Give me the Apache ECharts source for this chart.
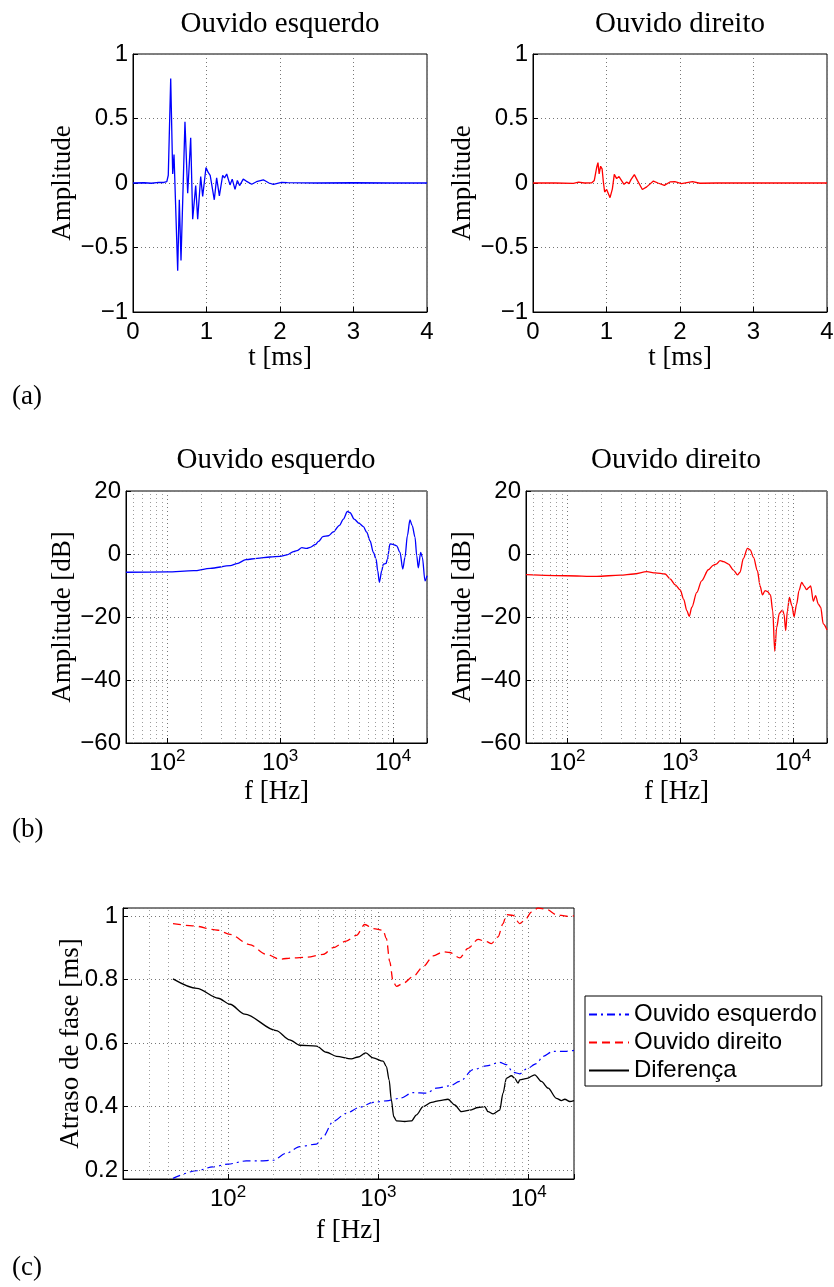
<!DOCTYPE html>
<html><head><meta charset="utf-8">
<script src="https://cdn.jsdelivr.net/npm/echarts@6/dist/echarts.min.js"></script>
<style>html,body{margin:0;padding:0;background:#fff}#c{width:834px;height:1287px}</style>
</head><body><div id="c"></div>
<script>
// ---------- (a) impulse responses ----------
const tL = [0, 0.15, 0.25, 0.35, 0.42, 0.46, 0.48, 0.513, 0.54, 0.558, 0.608, 0.63, 0.653, 0.707, 0.744, 0.785, 0.812, 0.853, 0.88, 0.921, 0.948, 0.993, 1.025, 1.05, 1.07, 1.106, 1.138, 1.175, 1.22, 1.245, 1.275, 1.32, 1.35, 1.388, 1.42, 1.45, 1.50, 1.54, 1.615, 1.68, 1.773, 1.85, 1.91, 2.02, 2.1, 2.5, 3.0, 3.5, 4.0];
const aL = [0, 0.002, -0.002, 0.005, 0.004, 0.01, 0.06, 0.81, 0.07, 0.22, -0.68, -0.13, -0.60, 0.475, -0.08, 0.35, -0.28, -0.02, -0.28, 0.05, -0.105, 0.12, 0.08, 0.06, 0.05, -0.13, 0.04, -0.10, 0.06, 0.04, 0.07, -0.015, 0.03, -0.05, 0.02, -0.02, 0.03, 0.015, -0.01, 0.01, 0.025, 0.0, -0.01, 0.004, 0.003, 0, 0.002, 0, 0];
const tR = [0, 0.3, 0.55, 0.62, 0.7, 0.8, 0.834, 0.866, 0.884, 0.9, 0.92, 0.94, 0.957, 0.975, 1.002, 1.048, 1.08, 1.106, 1.138, 1.17, 1.193, 1.238, 1.275, 1.306, 1.333, 1.379, 1.42, 1.488, 1.547, 1.638, 1.70, 1.787, 1.864, 1.93, 2.02, 2.17, 2.27, 2.5, 3, 3.5, 4];
const aR = [0, 0, -0.003, 0.006, 0, 0.002, 0.02, 0.12, 0.158, 0.07, 0.13, 0.11, 0.01, -0.07, -0.05, -0.114, -0.045, 0.067, 0.034, 0.05, 0.047, -0.01, 0.008, -0.005, 0.026, 0.065, 0.02, -0.05, -0.03, 0.015, 0, -0.018, 0.008, 0.01, -0.005, 0.01, -0.002, 0, 0.001, 0, 0];

// ---------- (b) magnitude responses ----------
const fBL = [43, 99, 171, 240, 361, 414, 497, 622, 813, 1000, 1148, 1312, 1406, 1556, 1722, 1841, 2042, 2188, 2388, 2679, 2951, 3350, 3631, 3945, 4169, 4519, 5012, 5458, 5848, 6252, 6699, 7079, 7311, 7568, 7943, 8204, 8670, 8913, 9397, 10069, 10765, 11535, 12190, 12764, 13397, 14125, 14791, 15668, 16218, 16749, 17579, 18197, 19187, 20000];
const mBL = [-5.8, -5.7, -5.3, -4.55, -3.7, -3.07, -1.8, -1.38, -0.95, -0.74, -0.3, 0.74, 1.06, 2.0, 1.8, 2.1, 2.96, 4.0, 5.5, 5.8, 7.0, 9.1, 11.1, 13.5, 13.1, 11.1, 9.7, 8.7, 6.9, 4.2, 0.5, -1.6, -5.3, -9.0, -5.3, -3.2, -3.0, -1.6, 3.2, 3.0, 2.6, 0.5, -4.8, -1.06, 5.8, 10.8, 9.0, 5.3, -0.5, -4.4, 0.5, -1.06, -8.5, -6.9];
const fBR = [43, 99, 182, 295, 386, 507, 603, 736, 813, 904, 1000, 1072, 1146, 1202, 1268, 1403, 1549, 1778, 1972, 2089, 2259, 2415, 2679, 2965, 3214, 3388, 3631, 3945, 4169, 4467, 4831, 5105, 5358, 5649, 5929, 6310, 6607, 6887, 7161, 7568, 8054, 8318, 8610, 8913, 9290, 9772, 10209, 10765, 11298, 11940, 12503, 13183, 13868, 14322, 15136, 15849, 16749, 17579, 18535, 20000];
const mBR = [-6.56, -6.9, -7.1, -6.7, -6.35, -5.6, -6.0, -6.35, -7.9, -9.8, -11.4, -14.3, -18, -19.8, -16.9, -12.2, -8.5, -5.0, -3.5, -3.2, -2.1, -2.4, -3.2, -5.1, -6.6, -5.8, -1.4, 1.8, 1.3, -1.06, -5.3, -10.1, -13.0, -11.6, -11.9, -13.0, -18, -30.9, -23.3, -18.8, -17.8, -19, -24.3, -18, -13.8, -16.4, -19.9, -15.9, -11.6, -9.0, -10.1, -11.3, -10.6, -10.1, -15.0, -13.2, -15.9, -16.9, -22.2, -24.1];

// ---------- (c) phase delay ----------
const fPL = [43, 62, 79, 100, 132, 163, 200, 244, 300, 387, 429, 499, 612, 752, 923, 1130, 1387, 1702, 2084, 2432, 2979, 3475, 4266, 5224, 6412, 7096, 7870, 8710, 9638, 11246, 12445, 14521, 17824, 20000];
const pL = [0.174, 0.198, 0.21, 0.219, 0.229, 0.229, 0.231, 0.253, 0.274, 0.282, 0.305, 0.353, 0.379, 0.398, 0.413, 0.418, 0.426, 0.444, 0.442, 0.458, 0.465, 0.479, 0.516, 0.528, 0.539, 0.532, 0.508, 0.503, 0.518, 0.535, 0.558, 0.574, 0.574, 0.577];
const fPR = [43, 58, 86, 103, 139, 180, 221, 270, 332, 429, 499, 612, 714, 811, 923, 1074, 1130, 1189, 1253, 1318, 1459, 1702, 1982, 2312, 2692, 2979, 3475, 3945, 4603, 5224, 5649, 6252, 6745, 7096, 7870, 8710, 9397, 10423, 11535, 13122, 15276, 17824, 20000];
const pR = [0.976, 0.969, 0.955, 0.942, 0.91, 0.879, 0.864, 0.868, 0.870, 0.879, 0.90, 0.921, 0.939, 0.973, 0.960, 0.955, 0.929, 0.856, 0.793, 0.778, 0.788, 0.809, 0.84, 0.874, 0.887, 0.885, 0.868, 0.898, 0.926, 0.919, 0.913, 0.934, 0.976, 1.004, 1.002, 0.976, 0.986, 1.012, 1.025, 1.021, 1.004, 0.999, 1.0];
const fD = [43, 62, 86, 103, 129, 209, 257, 300, 387, 451, 526, 661, 733, 824, 923, 1074, 1130, 1178, 1219, 1265, 1318, 1496, 1660, 1791, 1982, 2254, 2559, 2904, 3221, 3565, 4055, 4603, 5093, 5358, 5794, 6412, 6745, 7096, 7674, 8072, 8492, 8710, 9750, 10965, 12134, 13459, 15276, 16482, 17378, 18750, 20000];
const pD = [0.802, 0.772, 0.741, 0.722, 0.691, 0.639, 0.61, 0.593, 0.59, 0.571, 0.558, 0.55, 0.556, 0.569, 0.553, 0.543, 0.526, 0.484, 0.421, 0.368, 0.355, 0.353, 0.355, 0.374, 0.40, 0.413, 0.419, 0.423, 0.405, 0.384, 0.389, 0.397, 0.40, 0.384, 0.377, 0.389, 0.442, 0.489, 0.497, 0.489, 0.474, 0.484, 0.489, 0.50, 0.479, 0.458, 0.426, 0.419, 0.423, 0.416, 0.419];

const seriesNames = ['Ouvido esquerdo', 'Ouvido direito', 'Diferença'];
const panelLabels = ['(a)', '(b)', '(c)'];

// minor log grid positions (2..9 x decade)
function minorLog(lo, hi) {
  const out = [];
  for (let d = 10; d <= 10000; d *= 10) for (let k = 2; k <= 9; k++) { const v = k * d; if (v > lo && v < hi) out.push(v); }
  return out;
}

const SANS = '"Liberation Sans", Arial, sans-serif';
const SERIF = '"Liberation Serif", "Times New Roman", serif';
const zip = (a, b) => a.map((x, i) => [x, b[i]]);
const minusFmt = v => String(v).replace('-', '\u2212');
const logFmt = v => { const l = Math.log10(v); const e = Math.round(l); if (Math.abs(l - e) > 1e-6) return ''; return '{b|10}{s|' + e + '}'; };
const logRich = {
  b: { fontFamily: SANS, fontSize: 24, lineHeight: 24, color: '#000' },
  s: { fontFamily: SANS, fontSize: 17, lineHeight: 17, padding: [0, 0, 13, 0], color: '#000' }
};
const major = { show: true, lineStyle: { color: '#777', type: [1, 3], width: 1 } };
const axLine = { onZero: false, lineStyle: { color: '#000', width: 1 } };
const tick = { inside: true, length: 5, lineStyle: { color: '#000' } };
const nameStyle = { fontFamily: SERIF, fontSize: 27, color: '#000' };
const labStyle = { color: '#000', fontFamily: SANS, fontSize: 24 };

function gridBox(left, top, width, height) {
  return { left, top, width, height, show: true, borderColor: '#000', borderWidth: 1, backgroundColor: 'transparent', containLabel: false, outerBoundsMode: 'none' };
}
function linX(gi, name, gap) {
  return { gridIndex: gi, type: 'value', min: 0, max: 4, interval: 1, axisLine: axLine, axisTick: tick,
    axisLabel: Object.assign({ margin: 8, formatter: minusFmt }, labStyle), splitLine: major,
    name, nameLocation: 'middle', nameGap: gap, nameTextStyle: nameStyle };
}
function logX(gi, min, name, gap) {
  return { gridIndex: gi, type: 'log', logBase: 10, min, max: 20000, axisLine: axLine, axisTick: tick,
    axisLabel: { margin: 8, formatter: logFmt, rich: logRich, color: '#000' }, splitLine: major,
    name, nameLocation: 'middle', nameGap: gap, nameTextStyle: nameStyle };
}
function valY(gi, min, max, interval, name, gap, fmt) {
  const o = { gridIndex: gi, type: 'value', min, max, axisLine: axLine, axisTick: tick,
    axisLabel: Object.assign({ margin: 5, formatter: fmt || minusFmt }, labStyle), splitLine: major,
    name, nameLocation: 'middle', nameGap: gap, nameRotate: 90, nameMoveOverlap: false, nameTextStyle: nameStyle };
  if (interval) o.interval = interval;
  return o;
}
function minorMark(lo, hi) {
  return { silent: true, symbol: 'none', animation: false, label: { show: false }, emphasis: { disabled: true },
    lineStyle: { color: '#9c9c9c', type: [1, 3], width: 1 }, data: minorLog(lo, hi).map(v => ({ xAxis: v })) };
}
function line(xi, data, color, extra) {
  return Object.assign({ type: 'line', xAxisIndex: xi, yAxisIndex: xi, data, symbol: 'none', showSymbol: false,
    lineStyle: { color, width: 1.3 }, itemStyle: { color }, animation: false, clip: true, z: 3 }, extra || {});
}

const chart = echarts.init(document.getElementById('c'), null, { renderer: 'canvas' });
const titleFont = { fontFamily: SERIF, fontSize: 29, fill: '#000', align: 'center', verticalAlign: 'middle' };
const tTxt = (x, y, text) => ({ type: 'text', x, y, silent: true, style: Object.assign({ text }, titleFont) });
const pTxt = (y, text) => ({ type: 'text', x: 12, y, silent: true, style: { text, fontFamily: SERIF, fontSize: 27, fill: '#000', align: 'left', verticalAlign: 'middle' } });

chart.setOption({
  animation: false,
  backgroundColor: '#fff',
  grid: [
    gridBox(133, 54, 294, 258),
    gridBox(533, 54, 294, 258),
    gridBox(126, 491, 301, 252),
    gridBox(526, 491, 301, 252),
    gridBox(123, 908, 451, 271)
  ],
  xAxis: [
    linX(0, 't [ms]', 31),
    linX(1, 't [ms]', 31),
    logX(2, 43, 'f [Hz]', 33),
    logX(3, 43, 'f [Hz]', 33),
    logX(4, 20, 'f [Hz]', 38)
  ],
  yAxis: [
    valY(0, -1, 1, 0.5, 'Amplitude', 57),
    valY(1, -1, 1, 0.5, 'Amplitude', 57),
    valY(2, -60, 20, 20, 'Amplitude [dB]', 50),
    valY(3, -60, 20, 20, 'Amplitude [dB]', 50),
    valY(4, 0.172, 1.025, null, 'Atraso de fase [ms]', 39, v => {
      if (Math.abs(v * 5 - Math.round(v * 5)) > 1e-6) return '';
      return String(Math.round(v * 10) / 10);
    })
  ],
  legend: {
    data: seriesNames, orient: 'vertical', left: 585, top: 996, padding: [6, 5, 3, 3], itemGap: 3,
    itemWidth: 40, itemHeight: 14, itemTextGap: 2, borderColor: '#000', borderWidth: 1, borderRadius: 0,
    backgroundColor: '#fff', selectedMode: false,
    itemStyle: { opacity: 0 },
    textStyle: { fontFamily: SANS, fontSize: 24, lineHeight: 25, color: '#000' }
  },
  graphic: [
    tTxt(280, 24, 'Ouvido esquerdo'),
    tTxt(680, 24, 'Ouvido direito'),
    tTxt(276, 460, 'Ouvido esquerdo'),
    tTxt(676, 460, 'Ouvido direito'),
    pTxt(397, panelLabels[0]),
    pTxt(830, panelLabels[1]),
    pTxt(1268, panelLabels[2])
  ],
  series: [
    line(0, zip(tL, aL), '#0000ff'),
    line(1, zip(tR, aR), '#ff0000'),
    line(2, zip(fBL, mBL), '#0000ff', { smooth: 0.3, smoothMonotone: 'x', markLine: minorMark(43, 20000) }),
    line(3, zip(fBR, mBR), '#ff0000', { smooth: 0.3, smoothMonotone: 'x', markLine: minorMark(43, 20000) }),
    Object.assign(line(4, zip(fPL, pL), '#0000ff', { smooth: 0.3, smoothMonotone: 'x', markLine: minorMark(20, 20000) }),
      { name: seriesNames[0], lineStyle: { color: '#0000ff', width: 1.2, type: [8, 4, 2, 4] } }),
    Object.assign(line(4, zip(fPR, pR), '#ff0000', { smooth: 0.3, smoothMonotone: 'x' }),
      { name: seriesNames[1], lineStyle: { color: '#ff0000', width: 1.3, type: [8, 5] } }),
    Object.assign(line(4, zip(fD, pD), '#000000', { smooth: 0.3, smoothMonotone: 'x' }),
      { name: seriesNames[2], lineStyle: { color: '#000000', width: 1.3 } })
  ]
});
</script></body></html>
